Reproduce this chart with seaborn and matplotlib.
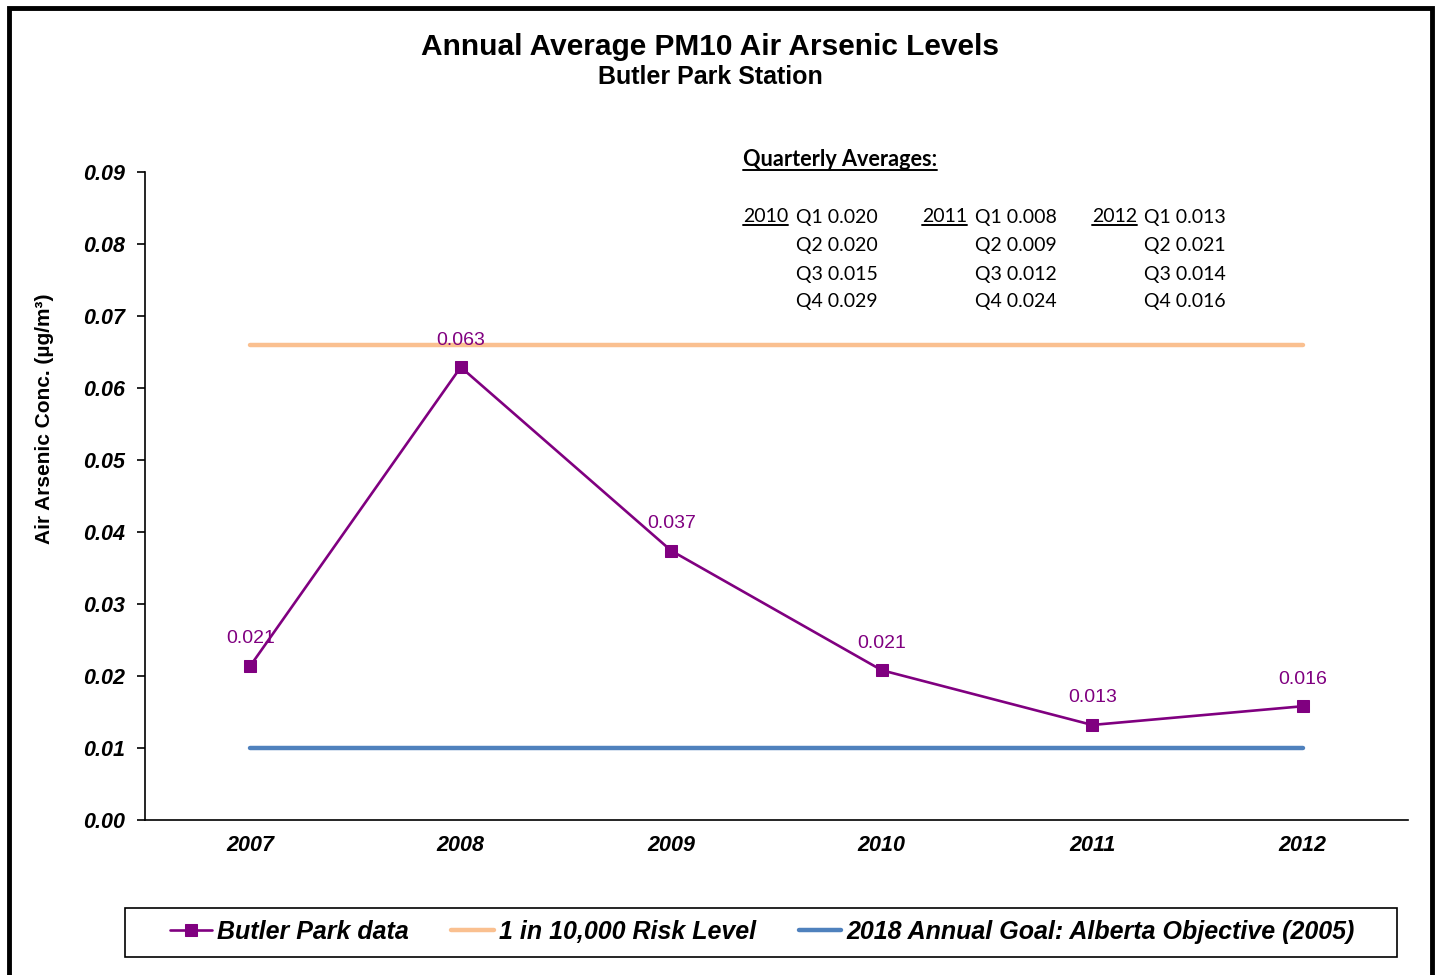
import matplotlib
matplotlib.use("Agg")
import matplotlib.pyplot as plt
import matplotlib.patches as patches
from matplotlib.lines import Line2D
from matplotlib.transforms import IdentityTransform
import numpy as np
import pandas as pd
import seaborn as sns

# Data
years = ["2007", "2008", "2009", "2010", "2011", "2012"]
butler_park = [0.0214, 0.0629, 0.0374, 0.0208, 0.0132, 0.0158]
butler_labels = ["0.021", "0.063", "0.037", "0.021", "0.013", "0.016"]
risk_level = 0.066
annual_goal = 0.010

quarter_names = ["Q1", "Q2", "Q3", "Q4"]
q_years = ["2010", "2011", "2012"]
q_2010 = ["0.020", "0.020", "0.015", "0.029"]
q_2011 = ["0.008", "0.009", "0.012", "0.024"]
q_2012 = ["0.013", "0.021", "0.014", "0.016"]

# Colours
PURPLE = "#800080"
ORANGE = "#FAC090"
BLUE = "#4F81BD"

W, H = 1439, 975
DPI = 100

sns.set_style("white")
plt.rcParams["font.family"] = ["Liberation Sans", "DejaVu Sans"]
plt.rcParams["text.color"] = "black"
plt.rcParams["axes.labelcolor"] = "black"
plt.rcParams["xtick.color"] = "black"
plt.rcParams["ytick.color"] = "black"

df = pd.DataFrame({
    "year": years,
    "butler": butler_park,
    "risk": [risk_level] * len(years),
    "goal": [annual_goal] * len(years),
})

fig = plt.figure(figsize=(W / DPI, H / DPI), dpi=DPI)
ax = fig.add_axes([145 / W, 1 - 820 / H, (1408 - 145) / W, (820 - 172) / H])


def fx(px):
    return px / W


def fy(py):
    return 1 - py / H


sns.lineplot(data=df, x="year", y="risk", ax=ax, color=ORANGE, linewidth=3.2,
             solid_capstyle="round", label="1 in 10,000 Risk Level", zorder=2)
sns.lineplot(data=df, x="year", y="goal", ax=ax, color=BLUE, linewidth=3.2,
             solid_capstyle="round", label="2018 Annual Goal: Alberta Objective (2005)", zorder=2)
sns.lineplot(data=df, x="year", y="butler", ax=ax, color=PURPLE, linewidth=1.9,
             marker="s", markersize=8, markeredgecolor=PURPLE,
             label="Butler Park data", zorder=3)

# data labels
for i, (v, lab) in enumerate(zip(butler_park, butler_labels)):
    ax.annotate(lab, (i, v), xytext=(0, 19.5), textcoords="offset points",
                ha="center", va="center", color=PURPLE, fontsize=14,
                zorder=4)

ax.set_xlim(-0.5, len(years) - 0.5)
ax.set_ylim(0, 0.09)
ax.set_yticks(np.arange(0, 0.091, 0.01))
ax.set_yticklabels([f"{t:.2f}" for t in np.arange(0, 0.091, 0.01)])
ax.set_xticks(range(len(years)))
ax.set_xticklabels(years)
ax.set_xticks(np.arange(-0.5, len(years), 1.0), minor=True)
ax.tick_params(axis="x", which="major", length=0, pad=11)
ax.tick_params(axis="x", which="minor", length=6, width=1.2, color="black", direction="out")
ax.tick_params(axis="y", length=6, width=1.2, color="black", direction="out", left=True, pad=8)
for lab in ax.get_xticklabels() + ax.get_yticklabels():
    lab.set_fontweight("bold")
    lab.set_fontstyle("italic")
    lab.set_fontsize(15.5)

sns.despine(ax=ax)
for s in ["left", "bottom"]:
    ax.spines[s].set_color("black")
    ax.spines[s].set_linewidth(1.2)

ax.set_xlabel("")
ax.set_ylabel("Air Arsenic Conc. (µg/m³)", fontsize=15, fontweight="bold")
ax.yaxis.set_label_coords(-0.072, 0.619)

# legend
handles, labels = ax.get_legend_handles_labels()
order = [2, 0, 1]
ax.legend_.remove()
leg = fig.legend([handles[i] for i in order], [labels[i] for i in order],
                 loc="center", bbox_to_anchor=(fx(762), fy(932)), ncol=3,
                 frameon=False,
                 prop={"weight": "bold", "style": "italic", "size": 18},
                 handlelength=1.7, handletextpad=0.2, columnspacing=1.7,
                 borderpad=0.45)
fig.add_artist(patches.Rectangle((fx(125), fy(957)), fx(1397) - fx(125), fy(908) - fy(957),
                                 transform=fig.transFigure, fill=False,
                                 edgecolor="black", linewidth=1.2))

# titles
fig.text(fx(710), fy(47), "Annual Average PM10 Air Arsenic Levels", ha="center", va="center",
         fontsize=21.5, fontweight="bold")
fig.text(fx(710), fy(77), "Butler Park Station", ha="center", va="center",
         fontsize=18, fontweight="bold")

# quarterly averages block
QFONT = ["Lato", "DejaVu Sans"]
underline_texts = []
t = fig.text(fx(743), fy(160), "Quarterly Averages:", ha="left", va="center",
             fontsize=15.6, fontweight="bold", family=QFONT)
underline_texts.append(t)
row_y = [217, 245, 274, 302]
col_year_x = [743, 922, 1092]
col_val_x = [796, 975, 1144]
for qy, vals, yx, vx in zip(q_years, [q_2010, q_2011, q_2012], col_year_x, col_val_x):
    t = fig.text(fx(yx), fy(row_y[0]), qy, ha="left", va="center", fontsize=14, family=QFONT)
    underline_texts.append(t)
    for qn, val, ry in zip(quarter_names, vals, row_y):
        fig.text(fx(vx), fy(ry), f"{qn} {val}", ha="left", va="center", fontsize=14, family=QFONT)

fig.canvas.draw()
renderer = fig.canvas.get_renderer()
for t in underline_texts:
    bb = t.get_window_extent(renderer)
    fig.add_artist(Line2D([bb.x0, bb.x1], [bb.y0 + 1, bb.y0 + 1], transform=IdentityTransform(),
                          color="black", linewidth=1.4))

# outer frame
fig.add_artist(patches.Rectangle((fx(9), -0.02), fx(1432) - fx(9), fy(8) + 0.02,
                                 transform=fig.transFigure, fill=False,
                                 edgecolor="black", linewidth=3.5))

fig.savefig("out.png", dpi=DPI)
